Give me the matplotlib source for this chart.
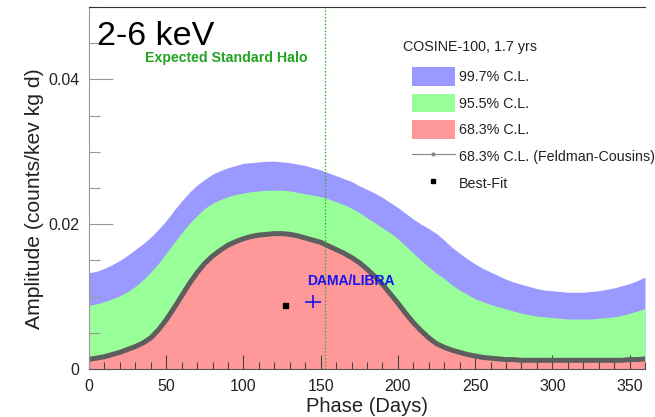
import matplotlib
matplotlib.use("Agg")
import matplotlib.pyplot as plt
from matplotlib.patches import Patch
from matplotlib.lines import Line2D
from matplotlib.ticker import MultipleLocator, FuncFormatter

plt.rcParams['font.family'] = ['Liberation Sans', 'DejaVu Sans']

# phase in days (every 5 days), amplitudes in counts/keV/kg/d
days = list(range(0, 365, 5))
cl997_upper = [0.0133, 0.0135, 0.0139, 0.0144, 0.0150, 0.0157, 0.0165, 0.0173, 0.0182, 0.0193,
               0.0205, 0.0219, 0.0232, 0.0244, 0.0254, 0.0262, 0.0269, 0.0274, 0.0278, 0.0281,
               0.0284, 0.0285, 0.0286, 0.0287, 0.0287, 0.0286, 0.0285, 0.0283, 0.0281, 0.0278,
               0.0275, 0.0271, 0.0267, 0.0263, 0.0259, 0.0253, 0.0248, 0.0243, 0.0237, 0.0230,
               0.0223, 0.0215, 0.0207, 0.0200, 0.0194, 0.0187, 0.0178, 0.0168, 0.0160, 0.0152,
               0.0145, 0.0139, 0.0134, 0.0129, 0.0124, 0.0120, 0.0117, 0.0114, 0.0111, 0.0109,
               0.0108, 0.0107, 0.0106, 0.0106, 0.0106, 0.0107, 0.0108, 0.0110, 0.0112, 0.0115,
               0.0118, 0.0122, 0.0127]
cl955_upper = [0.0088, 0.0090, 0.0093, 0.0097, 0.0101, 0.0107, 0.0114, 0.0123, 0.0134, 0.0146,
               0.0160, 0.0174, 0.0188, 0.0201, 0.0212, 0.0222, 0.0229, 0.0234, 0.0238, 0.0241,
               0.0243, 0.0245, 0.0246, 0.0247, 0.0247, 0.0247, 0.0246, 0.0244, 0.0242, 0.0240,
               0.0238, 0.0235, 0.0231, 0.0227, 0.0222, 0.0216, 0.0209, 0.0202, 0.0195, 0.0188,
               0.0180, 0.0170, 0.0160, 0.0150, 0.0141, 0.0132, 0.0125, 0.0116, 0.0109, 0.0103,
               0.0097, 0.0093, 0.0089, 0.0086, 0.0083, 0.0080, 0.0077, 0.0075, 0.0073, 0.0072,
               0.0071, 0.0070, 0.0069, 0.0069, 0.0069, 0.0069, 0.0070, 0.0071, 0.0072, 0.0074,
               0.0077, 0.0080, 0.0084]
fc683_upper = [0.00134, 0.0015, 0.0017, 0.0020, 0.0023, 0.0027, 0.0031, 0.0036, 0.0043, 0.0054,
               0.0068, 0.0084, 0.0101, 0.0118, 0.0133, 0.0146, 0.0156, 0.0164, 0.0171, 0.0176,
               0.0180, 0.0183, 0.0185, 0.0186, 0.0187, 0.0187, 0.0186, 0.0184, 0.0181, 0.0178,
               0.0175, 0.0170, 0.0165, 0.0160, 0.0154, 0.0147, 0.0138, 0.0128, 0.0117, 0.0104,
               0.0091, 0.0077, 0.0064, 0.0053, 0.0043, 0.0035, 0.0030, 0.0026, 0.0023, 0.0020,
               0.0018, 0.0016, 0.0015, 0.0014, 0.0013, 0.0013, 0.0012, 0.0012, 0.0012, 0.0012,
               0.0012, 0.0012, 0.0012, 0.0012, 0.0012, 0.0012, 0.0012, 0.0012, 0.0012, 0.0012,
               0.0013, 0.0013, 0.0014]

best_fit = (127, 0.0089)
dama = (145, 0.0093)
dama_err = (5, 0.0009)
shm_phase = 152.5

c_blue = '#9999ff'
c_green = '#99ff99'
c_red = '#ff9999'
c_halo = '#2aad2a'
c_dama = '#1414f0'

fig = plt.figure(figsize=(6.55, 4.17), dpi=100)
ax = fig.add_axes([89 / 655, 48 / 417, 556 / 655, 362 / 417])

ax.fill_between(days, 0, cl997_upper, color=c_blue, lw=0)
ax.fill_between(days, 0, cl955_upper, color=c_green, lw=0)
ax.fill_between(days, 0, fc683_upper, color=c_red, lw=0)
ax.plot(days, fc683_upper, color='#5e5e5e', lw=3.6, solid_capstyle='butt')

ax.axvline(shm_phase, color=c_halo, ls=(0, (1.2, 1.5)), lw=0.9)
ax.text(36.5, 0.0429, 'Expected Standard Halo', color='#22a322', fontsize=10.2,
        fontweight='bold', va='center', ha='left')

ax.plot(*best_fit, marker='s', color='black', ms=3.6, ls='none')
ax.errorbar(dama[0], dama[1], xerr=dama_err[0], yerr=dama_err[1], color=c_dama,
            lw=1.2, capsize=0)
ax.text(141.5, 0.0121, 'DAMA/LIBRA', color=c_dama, fontsize=10, fontweight='bold',
        va='center', ha='left')

ax.set_xlim(0, 360)
ax.set_ylim(0, 0.05)
ax.xaxis.set_major_locator(MultipleLocator(50))
ax.xaxis.set_minor_locator(MultipleLocator(10))
ax.yaxis.set_major_locator(MultipleLocator(0.02))
ax.yaxis.set_minor_locator(MultipleLocator(0.005))
ax.yaxis.set_major_formatter(FuncFormatter(lambda v, p: '0' if v == 0 else f'{v:g}'))

ax.tick_params(axis='x', which='major', direction='in', length=10, width=0.8,
               color='#444444', labelsize=11.5, pad=7, labelcolor='#222222')
ax.tick_params(axis='x', which='minor', direction='in', length=5, width=0.8, color='#444444')
ax.tick_params(axis='y', which='major', direction='in', length=17, width=0.8,
               color='#999999', labelsize=11.5, pad=7, labelcolor='#222222')
ax.tick_params(axis='y', which='minor', direction='in', length=8, width=0.8, color='#999999')

for side in ['left', 'bottom', 'top', 'right']:
    ax.spines[side].set_zorder(5)
ax.spines['left'].set_color('#999999')
ax.spines['top'].set_color('#333333')
ax.spines['bottom'].set_color('#555555')
ax.spines['right'].set_visible(False)

ax.set_xlabel('Phase (Days)', fontsize=14.5, color='#222222', labelpad=2)
ax.set_ylabel('Amplitude (counts/kev kg d)', fontsize=15.2, color='#222222')
ax.yaxis.set_label_coords(-0.081, 0.471)

fig.text(97 / 655, 1 - 45 / 417, '2-6 keV', fontsize=24.5, color='black', va='baseline')

# legend: header text plus entries
fig.text(403 / 655, 1 - 47 / 417, 'COSINE-100, 1.7 yrs', fontsize=10.3, color='#222222',
         va='center', ha='left')
handles = [
    Patch(facecolor=c_blue, edgecolor='none'),
    Patch(facecolor=c_green, edgecolor='none'),
    Patch(facecolor=c_red, edgecolor='none'),
    Line2D([], [], color='#888888', lw=0.8, marker='o', ms=2),
    Line2D([], [], color='black', ls='none', marker='s', ms=3.5),
]
labels = ['99.7% C.L.', '95.5% C.L.', '68.3% C.L.', '68.3% C.L. (Feldman-Cousins)', 'Best-Fit']
leg = fig.legend(handles, labels, loc='upper left', bbox_to_anchor=(412 / 655, 1 - 67 / 417),
                 frameon=False, fontsize=10.3, handlelength=3.0, handleheight=1.63,
                 labelspacing=0.56, handletextpad=0.3, borderpad=0, borderaxespad=0)
for t in leg.get_texts():
    t.set_color('#222222')

fig.savefig('out.png', dpi=100)
